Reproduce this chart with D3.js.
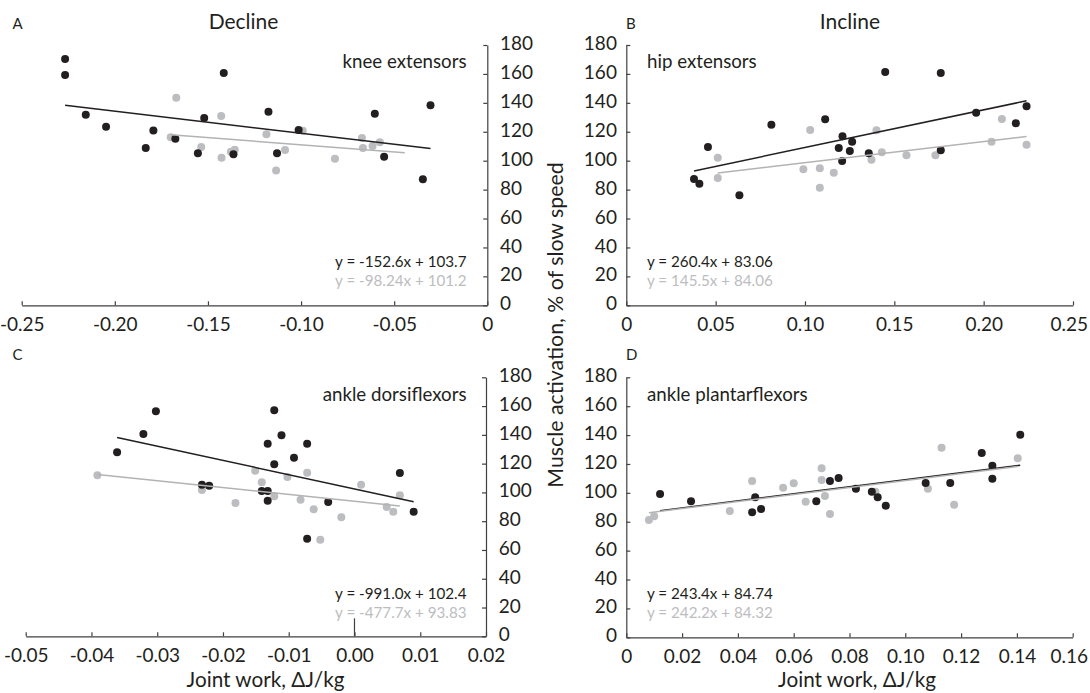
<!DOCTYPE html>
<html>
<head>
<meta charset="utf-8">
<script src="https://cdn.jsdelivr.net/npm/d3@7"></script>
<style>
  body { margin: 0; background: #fff; }
  svg text { font-family: Lato, "Open Sans", sans-serif; fill: #231f20; }
</style>
</head>
<body>
<div id="chart"></div>
<script>
// ---- data ----
const panelLetters = ["A", "B", "C", "D"];
const columnTitles = ["Decline", "Incline"];
const muscleNames = ["knee extensors", "hip extensors", "ankle dorsiflexors", "ankle plantarflexors"];

const xDomains = [[-0.25, 0], [0, 0.25], [-0.05, 0.02], [0, 0.16]];
const xTickValues = [
  [-0.25, -0.2, -0.15, -0.1, -0.05, 0],
  [0, 0.05, 0.1, 0.15, 0.2, 0.25],
  [-0.05, -0.04, -0.03, -0.02, -0.01, 0, 0.01, 0.02],
  [0, 0.02, 0.04, 0.06, 0.08, 0.1, 0.12, 0.14, 0.16]
];
const xTickLabels = [
  ["-0.25", "-0.20", "-0.15", "-0.10", "-0.05", "0"],
  ["0", "0.05", "0.10", "0.15", "0.20", "0.25"],
  ["-0.05", "-0.04", "-0.03", "-0.02", "-0.01", "0.00", "0.01", "0.02"],
  ["0", "0.02", "0.04", "0.06", "0.08", "0.10", "0.12", "0.14", "0.16"]
];
const yTicks = [0, 20, 40, 60, 80, 100, 120, 140, 160, 180];

const kneeBlack = [[-0.2267,170.3],[-0.2267,159.3],[-0.1415,160.6],[-0.2156,131.8],[-0.2047,123.5],[-0.1793,120.8],[-0.1834,108.8],[-0.1675,115.2],[-0.152,129.5],[-0.1554,105.1],[-0.1363,104.4],[-0.1175,133.9],[-0.1129,105.1],[-0.1013,121.2],[-0.0604,132.5],[-0.0554,102.8],[-0.0305,138.3],[-0.0346,87.1]];
const kneeGray = [[-0.167,143.6],[-0.170,116.2],[-0.1429,130.9],[-0.1536,109.5],[-0.1427,102.1],[-0.1377,106.2],[-0.1356,107.6],[-0.1186,118.2],[-0.1086,107.4],[-0.1134,93.3],[-0.0991,120.7],[-0.0818,101.4],[-0.0673,115.7],[-0.0668,108.8],[-0.0616,110.2],[-0.0577,112.7]];

const hipBlack = [[0.0379,87.3],[0.0409,84.1],[0.0457,109.5],[0.0633,76.1],[0.0812,124.9],[0.1113,128.6],[0.1189,108.8],[0.1210,116.9],[0.1264,113.1],[0.1251,106.7],[0.1208,99.8],[0.1357,105.1],[0.1449,161.3],[0.176,160.6],[0.176,107.2],[0.1958,133.2],[0.218,125.9],[0.224,137.6]];
const hipGray = [[0.0512,102.1],[0.0512,88.0],[0.0991,94.0],[0.1029,121.2],[0.1083,94.7],[0.1083,81.3],[0.1161,91.7],[0.1372,100.7],[0.14,121.0],[0.143,105.8],[0.1568,103.7],[0.173,103.7],[0.2044,113.1],[0.2102,128.8],[0.224,111.1]];

const dorsiBlack = [[-0.0361,127.9],[-0.0321,140.6],[-0.0302,156.4],[-0.0232,105.4],[-0.0221,104.7],[-0.0141,101],[-0.0132,101],[-0.0132,94.2],[-0.0132,133.8],[-0.0122,157.1],[-0.0122,119.5],[-0.0111,139.7],[-0.0092,124.1],[-0.0072,133.8],[-0.0072,67.8],[-0.004,93.3],[0.0069,113.5],[0.009,86.6]];
const dorsiGray = [[-0.0391,111.9],[-0.0232,101.7],[-0.0181,92.6],[-0.0151,115.1],[-0.0141,107],[-0.0122,97.3],[-0.0102,110.7],[-0.0082,94.9],[-0.0072,113.7],[-0.0062,88.3],[-0.0052,67.1],[-0.002,82.7],[0.001,105.4],[0.0049,89.9],[0.0059,86.6],[0.0069,98]];

const plantarBlack = [[0.0121,99.2],[0.0232,94.2],[0.0451,86.5],[0.0483,88.8],[0.0462,96.9],[0.0681,94.2],[0.073,108.2],[0.0761,110.3],[0.0823,102.9],[0.088,100.8],[0.0901,96.9],[0.093,91.1],[0.1073,106.8],[0.1161,106.8],[0.1274,127.6],[0.1312,118.8],[0.1312,109.8],[0.1412,140.3]];
const plantarGray = [[0.0081,81.2],[0.010,83.8],[0.0371,87.4],[0.0451,108.2],[0.0562,103.6],[0.06,106.6],[0.0643,93.9],[0.070,117.0],[0.070,108.9],[0.0712,97.8],[0.073,85.4],[0.0893,100.8],[0.1081,102.9],[0.113,131.3],[0.1175,91.8],[0.1403,123.9]];

const blackSeries = [kneeBlack, hipBlack, dorsiBlack, plantarBlack];
const graySeries = [kneeGray, hipGray, dorsiGray, plantarGray];

// trendline coefficients [slope, intercept] and the x span each line covers
const blackFits = [[-152.6, 103.7], [260.4, 83.06], [-991.0, 102.4], [243.4, 84.74]];
const grayFits = [[-98.24, 101.2], [145.5, 84.06], [-477.7, 93.83], [242.2, 84.32]];
const blackSpans = [[-0.2267, -0.0305], [0.0379, 0.224], [-0.0361, 0.009], [0.0121, 0.1412]];
const graySpans = [[-0.170, -0.0443], [0.0512, 0.224], [-0.0391, 0.0069], [0.0081, 0.1403]];
const blackEquations = ["y = -152.6x + 103.7", "y = 260.4x + 83.06", "y = -991.0x + 102.4", "y = 243.4x + 84.74"];
const grayEquations = ["y = -98.24x + 101.2", "y = 145.5x + 84.06", "y = -477.7x + 93.83", "y = 242.2x + 84.32"];

// ---- layout ----
const width = 1090, height = 693;
const COLORS = { black: "#231f20", gray: "#bcbdc0", grayLine: "#b3b3b3", axis: "#404040" };

const svg = d3.select("#chart").append("svg")
  .attr("width", width)
  .attr("height", height);

// pixel box of each plot: x range, y range, which side the y axis sits on
const panelBoxes = [
  { x: [21.7, 487.3], y: [305.3, 45], yAxisRight: true },
  { x: [626.3, 1073], y: [305.3, 45], yAxisRight: false },
  { x: [25.7, 486], y: [636.3, 377.3], yAxisRight: true },
  { x: [626.3, 1072.7], y: [637.3, 377.3], yAxisRight: false }
];

panelBoxes.forEach((box, i) => drawPanel(i, box));

function drawPanel(i, box) {
  const x = d3.scaleLinear().domain(xDomains[i]).range(box.x);
  const y = d3.scaleLinear().domain([0, 180]).range(box.y);
  const g = svg.append("g").attr("class", "panel-" + panelLetters[i]);

  // x axis, ticks pointing up
  const xAxis = d3.axisBottom(x)
    .tickValues(xTickValues[i])
    .tickFormat((d, k) => xTickLabels[i][k])
    .tickSizeInner(-4)
    .tickSizeOuter(0)
    .tickPadding(12);
  const gx = g.append("g")
    .attr("transform", "translate(0," + y(0) + ")")
    .call(xAxis);
  styleAxis(gx);

  // keep the last tick label inside the picture, as the original does
  gx.selectAll(".tick text").each(function() {
    const b = this.getBBox();
    const tickX = d3.select(this.parentNode).attr("transform").match(/translate\(([-\d.]+)/)[1];
    const over = +tickX + b.x + b.width - (width - 2);
    if (over > 0) d3.select(this).attr("x", -over);
  });

  // y axis at the plot's right or left edge
  const axisX = box.yAxisRight ? box.x[1] : box.x[0];
  const yAxis = (box.yAxisRight ? d3.axisRight(y) : d3.axisLeft(y))
    .tickValues(yTicks)
    .tickSizeInner(-4)
    .tickSizeOuter(0)
    .tickPadding(box.yAxisRight ? 12.7 : 9.4);
  const gy = g.append("g")
    .attr("transform", "translate(" + axisX + ",0)")
    .call(yAxis);
  styleAxis(gy);
  gy.selectAll("text").attr("dy", "0.24em");

  // leftover stub of the vertical axis at x = 0 in panel C
  if (i === 2) {
    g.append("line")
      .attr("x1", x(0)).attr("x2", x(0))
      .attr("y1", y(0)).attr("y2", y(12.5))
      .attr("stroke", COLORS.axis)
      .attr("stroke-width", 1.2);
  }

  // points: gray first, black on top
  g.append("g").selectAll("circle")
    .data(graySeries[i])
    .enter()
      .append("circle")
      .attr("cx", d => x(d[0]))
      .attr("cy", d => y(d[1]))
      .attr("r", 4)
      .attr("fill", COLORS.gray);
  g.append("g").selectAll("circle")
    .data(blackSeries[i])
    .enter()
      .append("circle")
      .attr("cx", d => x(d[0]))
      .attr("cy", d => y(d[1]))
      .attr("r", 4)
      .attr("fill", COLORS.black);

  // linear trendlines
  drawFit(g, x, y, blackFits[i], blackSpans[i], COLORS.black);
  drawFit(g, x, y, grayFits[i], graySpans[i], COLORS.grayLine);

  // muscle label and equations
  const right = box.yAxisRight;
  const textX = right ? 466.5 : 647;
  const anchor = right ? "end" : "start";
  const top = box.y[1];
  g.append("text")
    .attr("x", textX)
    .attr("y", top + 23.3)
    .attr("text-anchor", anchor)
    .style("font-size", "18.7px")
    .text(muscleNames[i]);
  g.append("text")
    .attr("x", textX)
    .attr("y", top + 222)
    .attr("text-anchor", anchor)
    .style("font-size", "15.2px")
    .text(blackEquations[i]);
  g.append("text")
    .attr("x", textX)
    .attr("y", top + 240.5)
    .attr("text-anchor", anchor)
    .style("font-size", "15.2px")
    .style("fill", COLORS.gray)
    .text(grayEquations[i]);

  // panel letter
  g.append("text")
    .attr("x", i % 2 === 0 ? 12.5 : 626)
    .attr("y", i < 2 ? 28.5 : 359.5)
    .style("font-size", "15px")
    .text(panelLetters[i]);
}

function drawFit(g, x, y, fit, span, color) {
  g.append("line")
    .attr("x1", x(span[0])).attr("y1", y(fit[0] * span[0] + fit[1]))
    .attr("x2", x(span[1])).attr("y2", y(fit[0] * span[1] + fit[1]))
    .attr("stroke", color)
    .attr("stroke-width", 1.5);
}

function styleAxis(sel) {
  sel.select(".domain").attr("stroke", COLORS.axis).attr("stroke-width", 1.2);
  sel.selectAll(".tick line").attr("stroke", COLORS.axis).attr("stroke-width", 1.2);
  sel.selectAll(".tick text")
    .style("font-family", "Lato, 'Open Sans', sans-serif")
    .style("font-size", "19px")
    .attr("fill", COLORS.black);
}

// column titles
svg.append("text")
  .attr("x", 243.5).attr("y", 29.3)
  .attr("text-anchor", "middle")
  .style("font-size", "21px")
  .text(columnTitles[0]);
svg.append("text")
  .attr("x", 850).attr("y", 29.3)
  .attr("text-anchor", "middle")
  .style("font-size", "21px")
  .text(columnTitles[1]);

// shared axis titles
svg.append("text")
  .attr("transform", "translate(563.3,325) rotate(-90)")
  .attr("text-anchor", "middle")
  .style("font-size", "21.3px")
  .text("Muscle activation, % of slow speed");
svg.append("text")
  .attr("x", 265.5).attr("y", 687)
  .attr("text-anchor", "middle")
  .style("font-size", "20.7px")
  .text("Joint work, ΔJ/kg");
svg.append("text")
  .attr("x", 857).attr("y", 687)
  .attr("text-anchor", "middle")
  .style("font-size", "20.7px")
  .text("Joint work, ΔJ/kg");
</script>
</body>
</html>
